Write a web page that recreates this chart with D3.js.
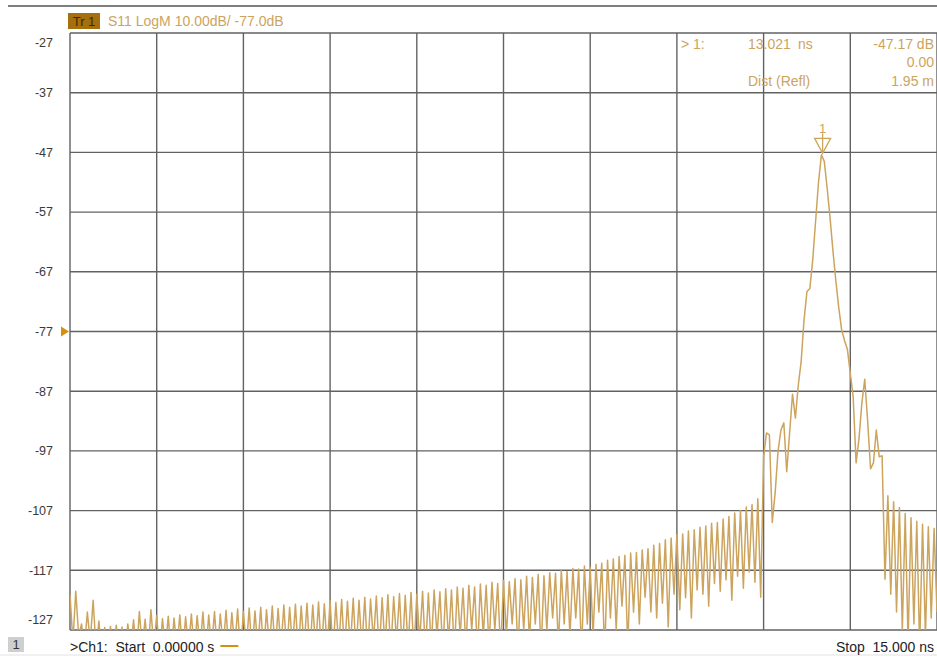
<!DOCTYPE html>
<html>
<head>
<meta charset="utf-8">
<script src="https://cdn.jsdelivr.net/npm/d3@7/dist/d3.min.js"></script>
<style>
  body { margin: 0; background: #fff; }
  svg { display: block; font-family: "Liberation Sans", Arial, sans-serif; }
</style>
</head>
<body>
<svg width="937" height="657"></svg>
<script>
// Barrido (tiempo, ns) y escala vertical (dB)
const startNs = 0
const stopNs = 15
const yTicks = [-27, -37, -47, -57, -67, -77, -87, -97, -107, -117, -127]
const xDivs = [0, 1.5, 3, 4.5, 6, 7.5, 9, 10.5, 12, 13.5, 15]
const refLevel = -77

// Traza S11 (dB), 301 puntos
const s11dB = [
  -121, -129, -120.5, -128, -126, -130, -124, -129, -122, -130,
  -125.5, -131, -126.6, -130, -126.4, -131, -126.2, -130, -126.5, -131,
  -126, -130, -125.3, -131, -123.9, -130, -125.2, -131, -123.6, -130,
  -124.6, -131, -125.1, -130, -124.7, -131, -125, -130, -124.5, -131,
  -124.8, -130, -124.3, -131, -124.6, -130, -124, -131, -124.5, -130,
  -123.9, -131, -124.3, -130, -123.7, -131, -124.1, -130, -123.5, -131,
  -123.9, -130, -123.3, -131, -123.8, -130, -123.2, -131, -123.6, -130,
  -123, -131, -123.4, -130, -122.8, -131, -123.2, -130, -122.7, -131,
  -123, -130, -122.5, -131, -122.8, -130, -122.3, -131, -122.6, -130,
  -122.1, -131, -122.4, -130, -121.9, -131, -122.2, -130, -121.7, -131,
  -122, -130, -121.5, -131, -121.8, -129, -121.3, -131, -121.6, -130,
  -121.1, -131, -121.4, -129, -120.9, -131, -121.2, -130, -120.7, -131,
  -121, -129, -120.5, -131, -120.8, -130, -120.3, -128, -120.6, -131,
  -120.1, -129, -120.3, -131, -119.8, -128, -120, -130, -119.5, -127,
  -119.8, -131, -119.3, -128, -119.5, -130, -119, -127, -119.2, -131,
  -118.7, -128, -118.9, -126, -118.4, -131, -118.6, -127, -118, -129,
  -118.2, -126, -117.7, -131, -117.9, -127, -117.4, -125, -117.5, -130,
  -117, -126, -117.2, -128, -116.7, -125, -116.8, -131, -116.3, -126,
  -116.5, -128, -116, -124, -115.8, -131, -115.3, -125, -115.1, -127,
  -114.7, -123, -114.5, -130, -114.1, -124, -114, -126, -113.6, -121.5,
  -113.4, -124, -112.8, -125, -112.5, -122.5, -111.9, -126.5, -111.6, -121,
  -111, -123.6, -110.9, -121.6, -110.4, -125, -110.2, -120.3, -109.8, -121,
  -109.6, -123, -109.1, -119.2, -109, -120.5, -108.4, -118.6, -108, -122,
  -107.4, -118, -107, -120, -106.4, -117.3, -106, -119, -105, -121.5,
  -98, -94, -94.3, -109, -104, -97, -93.5, -92.3, -100.5, -94,
  -87.5, -91.5, -86, -82, -75, -70.3, -69.8, -65, -58.5, -52,
  -47.4, -48.5, -53, -58, -63.5, -68.5, -73, -76.7, -78.5, -80,
  -84, -88, -99, -95, -89, -85, -92, -100, -99, -93.5,
  -98, -97.8, -118.5, -104.5, -121, -105.5, -124, -106.5, -127, -107.5,
  -129, -108.2, -126, -108.8, -130, -109.3, -128, -109.7, -125, -110,
  -124
]

// Marcador 1
const markerNs = 13.021
const markerDb = -47.17
const markerRows = [
  { label: "> 1:", value: "13.021", unit: "ns", right: "-47.17 dB" },
  { label: "", value: "", unit: "", right: "0.00" },
  { label: "", value: "Dist (Refl)", unit: "", right: "1.95 m" }
]

const plotLeft = 70
const plotRight = 937
const plotTop = 33
const plotBottom = 630
const gold = "#cca45e"
const gridColor = "#626262"

const xScale = d3.scaleLinear([startNs, stopNs], [plotLeft, plotRight])
const yScale = d3.scaleLinear([-127, -27], [plotBottom, plotTop])

const svg = d3.select("svg")

// Linea superior
svg.append("line")
  .attr("x1", 8).attr("x2", 937).attr("y1", 6).attr("y2", 6)
  .attr("stroke", "#555").attr("stroke-width", 1.6)
svg.append("line")
  .attr("x1", 0).attr("x2", 937).attr("y1", 655).attr("y2", 655)
  .attr("stroke", "#e2e2e2").attr("stroke-width", 1)

// Rejilla
const grid = svg.append("g")
grid.selectAll(".hgrid")
  .data(yTicks)
  .join("line")
    .attr("x1", plotLeft).attr("x2", plotRight)
    .attr("y1", d => yScale(d)).attr("y2", d => yScale(d))
    .attr("stroke", gridColor).attr("stroke-width", 1.4)
grid.selectAll(".vgrid")
  .data(xDivs)
  .join("line")
    .attr("x1", d => xScale(d)).attr("x2", d => xScale(d))
    .attr("y1", plotTop).attr("y2", plotBottom)
    .attr("stroke", gridColor).attr("stroke-width", 1.4)

// Etiquetas eje Y
svg.append("g")
  .selectAll("text")
  .data(yTicks)
  .join("text")
    .attr("x", 53)
    .attr("y", (d, i) => yScale(d) + (i === 0 ? 10 : i === yTicks.length - 1 ? -10 : 0))
    .attr("dy", "0.35em")
    .attr("text-anchor", "end")
    .attr("font-size", "12.5px")
    .attr("fill", "#3a3a3a")
    .text(d => d)

// Flecha de nivel de referencia
svg.append("path")
  .attr("d", `M${plotLeft - 9},${yScale(refLevel) - 5}L${plotLeft - 1},${yScale(refLevel)}L${plotLeft - 9},${yScale(refLevel) + 5}Z`)
  .attr("fill", "#d4900f")

// Traza
svg.append("clipPath").attr("id", "plot-clip")
  .append("rect")
    .attr("x", plotLeft).attr("y", plotTop)
    .attr("width", plotRight - plotLeft).attr("height", plotBottom - plotTop)

const step = (stopNs - startNs) / (s11dB.length - 1)
const line = d3.line()
  .x((d, i) => xScale(startNs + i * step))
  .y(d => yScale(d))

svg.append("path")
  .datum(s11dB)
  .attr("clip-path", "url(#plot-clip)")
  .attr("d", line)
  .attr("fill", "none")
  .attr("stroke", gold)
  .attr("stroke-width", 1.5)
  .attr("stroke-linejoin", "round")

// Marcador
const mx = xScale(markerNs)
const my = yScale(markerDb)
const mk = svg.append("g").attr("stroke", gold).attr("fill", "none").attr("stroke-width", 1.3)
mk.append("path").attr("d", `M${mx - 8},${my - 15}L${mx + 8},${my - 15}L${mx},${my}Z`)
mk.append("line").attr("x1", mx).attr("x2", mx).attr("y1", my - 20).attr("y2", my)
svg.append("text")
  .attr("x", mx).attr("y", my - 20)
  .attr("text-anchor", "middle")
  .attr("font-size", "13px")
  .attr("fill", gold)
  .text("1")

// Lectura del marcador
const readout = svg.append("g").attr("font-size", "14px").attr("fill", gold)
markerRows.forEach((row, i) => {
  const ry = 44 + i * 18.5
  readout.append("text").attr("x", 681).attr("y", ry).attr("dy", "0.35em").text(row.label)
  readout.append("text").attr("x", 748).attr("y", ry).attr("dy", "0.35em").text(row.value)
  readout.append("text").attr("x", 798).attr("y", ry).attr("dy", "0.35em").text(row.unit)
  readout.append("text").attr("x", 934).attr("y", ry).attr("dy", "0.35em")
    .attr("text-anchor", "end").text(row.right)
})

// Encabezado de traza
svg.append("rect")
  .attr("x", 68).attr("y", 13).attr("width", 32).attr("height", 16)
  .attr("fill", "#a46f0c")
svg.append("text")
  .attr("x", 84).attr("y", 21).attr("dy", "0.35em")
  .attr("text-anchor", "middle").attr("font-size", "13px").attr("fill", "#3c2a05")
  .text("Tr 1")
svg.append("text")
  .attr("x", 108).attr("y", 21).attr("dy", "0.35em")
  .attr("font-size", "14px").attr("fill", gold)
  .text("S11 LogM 10.00dB/ -77.0dB")

// Pie
svg.append("rect")
  .attr("x", 8).attr("y", 637).attr("width", 16).attr("height", 15)
  .attr("fill", "#cfcfcf")
svg.append("text")
  .attr("x", 16).attr("y", 644.5).attr("dy", "0.35em")
  .attr("text-anchor", "middle").attr("font-size", "13px").attr("fill", "#333")
  .text("1")
const footStart = svg.append("text")
  .attr("x", 70).attr("y", 647).attr("dy", "0.35em")
  .attr("font-size", "14px").attr("fill", "#222")
  .attr("xml:space", "preserve")
  .text(">Ch1:  Start  0.00000 s")
const fw = footStart.node().getComputedTextLength()
svg.append("line")
  .attr("x1", 70 + fw + 6).attr("x2", 70 + fw + 24)
  .attr("y1", 646).attr("y2", 646)
  .attr("stroke", "#d4900f").attr("stroke-width", 2)
svg.append("text")
  .attr("x", 934).attr("y", 647).attr("dy", "0.35em")
  .attr("text-anchor", "end").attr("font-size", "14px").attr("fill", "#222")
  .attr("xml:space", "preserve")
  .text("Stop  15.000 ns")
</script>
</body>
</html>
